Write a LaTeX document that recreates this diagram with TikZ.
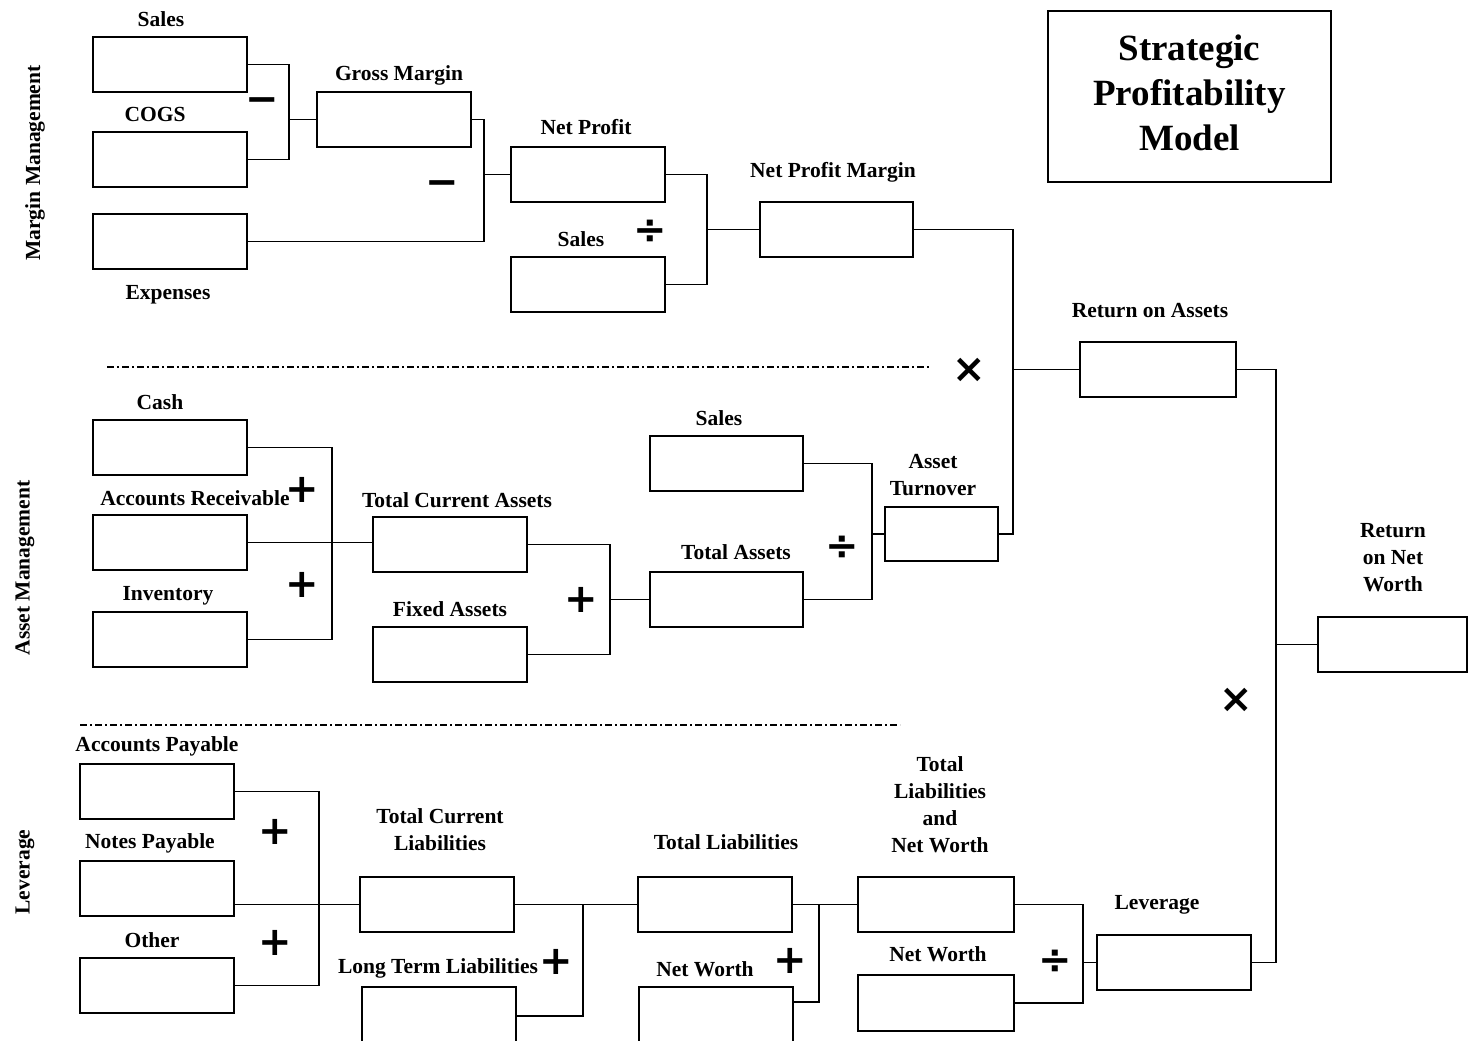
\documentclass[tikz,border=0pt]{standalone}
\usepackage{fontspec}
\setmainfont{Liberation Serif}
\newfontfamily\opfont{DejaVu Sans}
\usetikzlibrary{calc}
\begin{document}
\begin{tikzpicture}[x=1pt,y=-1pt,
 box/.style={draw, line width=2pt, minimum width=154pt, minimum height=55pt, inner sep=0pt, outer sep=0pt},
 lbl/.style={font=\fontsize{21.5}{27}\selectfont\bfseries, align=center, inner sep=0pt},
 sect/.style={lbl, rotate=90},
 op/.style={font=\opfont\bfseries\fontsize{40}{40}\selectfont, inner sep=0pt},
 conn/.style={line width=1.9pt},
 sepline/.style={line width=1.6pt, dash pattern=on 7pt off 3pt on 2pt off 3pt}]
\fill[white] (0,0) rectangle (1478,1041);
\useasboundingbox (0,0) rectangle (1478,1041);

% title
\node[draw, line width=2.5pt, minimum width=283pt, minimum height=171pt, inner sep=0pt] (titlebox) at (1189.5,96.5) {};
\node[font=\fontsize{37}{45}\selectfont\bfseries, align=center, inner sep=0pt] (title) at (1189.5,93) {Strategic\\Profitability\\Model};

% section labels
\node[sect] (smm) at (35,163) {Margin Management};
\node[sect] (sam) at (25,568) {Asset Management};
\node[sect] (slev) at (25,872) {Leverage};

% separators
\coordinate (sep1a) at (107,367); \coordinate (sep1b) at (930,367);
\coordinate (sep2a) at (80,725);  \coordinate (sep2b) at (900,725);
\draw[sepline] (sep1a) -- (sep1b);
\draw[sepline] (sep2a) -- (sep2b);

% ---------- Margin management ----------
\node[box] (bsales1) at (170,64.5) {};
\node[box] (bcogs) at (170,159.5) {};
\node[box] (bexp) at (170,241.5) {};
\node[box] (bgm) at (394,119.5) {};
\node[box] (bnp) at (588,174.5) {};
\node[box] (bsales2) at (588,284.5) {};
\node[box, minimum width=153pt] (bnpm) at (836.5,229.5) {};
\node[box, minimum width=156pt] (broa) at (1158,369.5) {};
\node[box, minimum width=149pt] (bronw) at (1392.5,644.5) {};

\node[lbl] (tsales1) at (161,19) {Sales};
\node[lbl] (tcogs) at (155,114) {COGS};
\node[lbl] (texp) at (168,295) {Expenses};
\node[lbl] (tgm) at (399,75) {Gross Margin};
\node[lbl] (tnp) at (586,127) {Net Profit};
\node[lbl] (tsales2) at (581,239) {Sales};
\node[lbl] (tnpm) at (833,172) {Net Profit Margin};
\node[lbl] (troa) at (1150,311) {Return on Assets};
\node[lbl] (tronw) at (1393,558) {Return\\on Net\\Worth};

\coordinate (j1) at (289,0);
\coordinate (j2) at (484,0);
\coordinate (j3) at (707,0);
\coordinate (j4) at (1013,0);
\coordinate (j5) at (1276,0);
\draw[conn] (bsales1.east) -- (bsales1.east -| j1) -- (bcogs.east -| j1) -- (bcogs.east);
\draw[conn] (bgm.west -| j1) -- (bgm.west);
\draw[conn] (bgm.east) -- (bgm.east -| j2) -- (bexp.east -| j2) -- (bexp.east);
\draw[conn] (bnp.west -| j2) -- (bnp.west);
\draw[conn] (bnp.east) -- (bnp.east -| j3) -- (bsales2.east -| j3) -- (bsales2.east);
\draw[conn] (bnpm.west -| j3) -- (bnpm.west);

\node[op] (om1) at (262,105) {−};
\node[op] (om2) at (442,188) {−};
\node[op] (od1) at (650,232) {÷};
\node[op] (ox1) at (969,370) {×};

% ---------- Asset management ----------
\node[box] (bcash) at (170,447.5) {};
\node[box] (bar) at (170,542.5) {};
\node[box] (binv) at (170,639.5) {};
\node[box] (btca) at (450,544.5) {};
\node[box] (bfa) at (450,654.5) {};
\node[box, minimum width=153pt] (bta) at (726.5,599.5) {};
\node[box, minimum width=153pt] (bsales3) at (726.5,463.5) {};
\node[box, minimum width=113pt, minimum height=54pt] (bat) at (941.5,534) {};

\node[lbl] (tcash) at (160,402) {Cash};
\node[lbl] (tar) at (195,498) {Accounts Receivable};
\node[lbl] (tinv) at (168,596) {Inventory};
\node[lbl] (ttca) at (457,500) {Total Current Assets};
\node[lbl] (tfa) at (450,609) {Fixed Assets};
\node[lbl] (tsales3) at (719,418) {Sales};
\node[lbl] (tta) at (736,552) {Total Assets};
\node[lbl] (tat) at (933,475) {Asset\\Turnover};

\coordinate (j6) at (332,0);
\coordinate (j7) at (610,0);
\coordinate (j8) at (872,0);
\draw[conn] (bcash.east) -- (bcash.east -| j6) -- (binv.east -| j6) -- (binv.east);
\draw[conn] (bar.east) -- (bar.east -| btca.west);
\draw[conn] (btca.east) -- (btca.east -| j7) -- (bfa.east -| j7) -- (bfa.east);
\draw[conn] (bta.west -| j7) -- (bta.west);
\draw[conn] (bsales3.east) -- (bsales3.east -| j8) -- (bta.east -| j8) -- (bta.east);
\draw[conn] (bat.west -| j8) -- (bat.west);
\draw[conn] (bnpm.east) -- (bnpm.east -| j4) -- (bat.east -| j4) -- (bat.east);
\draw[conn] (broa.west -| j4) -- (broa.west);

\node[op] (op1) at (302,490) {+};
\node[op] (op2) at (302,585) {+};
\node[op] (op3) at (581,600) {+};
\node[op] (od2) at (842,548) {÷};
\node[op] (ox2) at (1236,700) {×};

% ---------- Leverage ----------
\node[box] (bap) at (157,791.5) {};
\node[box] (bnpay) at (157,888.5) {};
\node[box] (both) at (157,985.5) {};
\node[box] (btcl) at (437,904.5) {};
\node[box, minimum height=58pt] (bltl) at (439,1016) {};
\node[box] (btl) at (715,904.5) {};
\node[box, minimum height=58pt] (bnw) at (716,1016) {};
\node[box, minimum width=156pt] (btlnw) at (936,904.5) {};
\node[box, minimum width=156pt, minimum height=56pt] (bnw2) at (936,1003) {};
\node[box] (blev) at (1174,962.5) {};

\node[lbl] (tap) at (157,746) {Accounts Payable};
\node[lbl] (tnpay) at (150,843) {Notes Payable};
\node[lbl] (toth) at (152,940) {Other};
\node[lbl] (ttcl) at (440,830) {Total Current\\Liabilities};
\node[lbl] (tltl) at (438,968) {Long Term Liabilities};
\node[lbl] (ttl) at (726,842) {Total Liabilities};
\node[lbl] (tnw) at (705,969) {Net Worth};
\node[lbl] (ttlnw) at (940,805) {Total\\Liabilities\\and\\Net Worth};
\node[lbl] (tnw2) at (938,954) {Net Worth};
\node[lbl] (tlev) at (1157,905) {Leverage};

\coordinate (j9) at (319,0);
\coordinate (j10) at (583,0);
\coordinate (j11) at (819,0);
\coordinate (j12) at (1083,0);
\coordinate (nwout) at ($(bnw.north east)+(0,15)$);
\draw[conn] (bap.east) -- (bap.east -| j9) -- (both.east -| j9) -- (both.east);
\draw[conn] (bnpay.east |- btcl.west) -- (btcl.west);
\draw[conn] (btcl.east) -- (btl.west);
\draw[conn] (bltl.east) -- (bltl.east -| j10) -- (btcl.east -| j10);
\draw[conn] (btl.east) -- (btlnw.west);
\draw[conn] (nwout) -- (nwout -| j11) -- (btl.east -| j11);
\draw[conn] (btlnw.east) -- (btlnw.east -| j12) -- (bnw2.east -| j12) -- (bnw2.east);
\draw[conn] (blev.west -| j12) -- (blev.west);
\draw[conn] (broa.east) -- (broa.east -| j5) -- (blev.east -| j5) -- (blev.east);
\draw[conn] (bronw.west -| j5) -- (bronw.west);

\node[op] (op4) at (275,832) {+};
\node[op] (op5) at (275,943) {+};
\node[op] (op6) at (556,962) {+};
\node[op] (op7) at (790,961) {+};
\node[op] (od3) at (1055,962) {÷};
\end{tikzpicture}
\end{document}
